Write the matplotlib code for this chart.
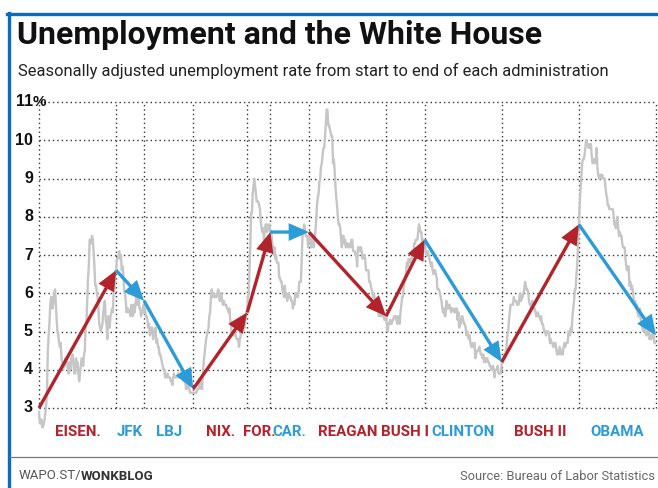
import matplotlib
matplotlib.use("Agg")
import matplotlib.pyplot as plt
from matplotlib.patches import FancyArrowPatch
from matplotlib.lines import Line2D

# monthly unemployment rate, Jan 1953 - Dec 2016 (one row per year)
unrate = [
    2.9, 2.6, 2.6, 2.7, 2.5, 2.5, 2.6, 2.7, 2.9, 3.1, 3.5, 4.5,
    4.9, 5.2, 5.7, 5.9, 5.9, 5.6, 5.8, 6.0, 6.1, 5.7, 5.3, 5.0,
    4.9, 4.7, 4.6, 4.7, 4.3, 4.2, 4.0, 4.2, 4.1, 4.3, 4.2, 4.2,
    4.0, 3.9, 4.2, 4.0, 4.3, 4.3, 4.4, 4.1, 3.9, 3.9, 4.3, 4.2,
    4.2, 3.9, 3.7, 3.9, 4.1, 4.3, 4.2, 4.1, 4.4, 4.5, 5.1, 5.2,
    5.8, 6.4, 6.7, 7.4, 7.4, 7.3, 7.5, 7.4, 7.1, 6.7, 6.2, 6.2,
    6.0, 5.9, 5.6, 5.2, 5.1, 5.0, 5.1, 5.2, 5.5, 5.7, 5.8, 5.3,
    5.2, 4.8, 5.4, 5.2, 5.1, 5.4, 5.5, 5.6, 5.5, 6.1, 6.1, 6.6,
    6.6, 6.9, 6.9, 7.0, 7.1, 6.9, 7.0, 6.6, 6.7, 6.5, 6.1, 6.0,
    5.8, 5.5, 5.6, 5.6, 5.5, 5.5, 5.4, 5.7, 5.6, 5.4, 5.7, 5.5,
    5.7, 5.9, 5.7, 5.7, 5.9, 5.6, 5.6, 5.4, 5.5, 5.5, 5.7, 5.5,
    5.6, 5.4, 5.4, 5.3, 5.1, 5.2, 4.9, 5.0, 5.1, 5.1, 4.8, 5.0,
    4.9, 5.1, 4.7, 4.8, 4.6, 4.6, 4.4, 4.4, 4.3, 4.2, 4.1, 4.0,
    4.0, 3.8, 3.8, 3.8, 3.9, 3.8, 3.8, 3.8, 3.7, 3.7, 3.6, 3.8,
    3.9, 3.8, 3.8, 3.8, 3.8, 3.9, 3.8, 3.8, 3.8, 4.0, 3.9, 3.8,
    3.7, 3.8, 3.7, 3.5, 3.5, 3.7, 3.7, 3.5, 3.4, 3.4, 3.4, 3.4,
    3.4, 3.4, 3.4, 3.4, 3.4, 3.5, 3.5, 3.5, 3.7, 3.7, 3.5, 3.5,
    3.9, 4.2, 4.4, 4.6, 4.8, 4.9, 5.0, 5.1, 5.4, 5.5, 5.9, 6.1,
    5.9, 5.9, 6.0, 5.9, 5.9, 5.9, 6.0, 6.1, 6.0, 5.8, 6.0, 6.0,
    5.8, 5.7, 5.8, 5.7, 5.7, 5.7, 5.6, 5.6, 5.5, 5.6, 5.3, 5.2,
    4.9, 5.0, 4.9, 5.0, 4.9, 4.9, 4.8, 4.8, 4.8, 4.6, 4.8, 4.9,
    5.1, 5.2, 5.1, 5.1, 5.1, 5.4, 5.5, 5.5, 5.9, 6.0, 6.6, 7.2,
    8.1, 8.1, 8.6, 8.8, 9.0, 8.8, 8.6, 8.4, 8.4, 8.4, 8.3, 8.2,
    7.9, 7.7, 7.6, 7.7, 7.4, 7.6, 7.8, 7.8, 7.6, 7.7, 7.8, 7.8,
    7.5, 7.6, 7.4, 7.2, 7.0, 7.2, 6.9, 7.0, 6.8, 6.8, 6.8, 6.4,
    6.4, 6.3, 6.3, 6.1, 6.0, 5.9, 6.2, 5.9, 6.0, 5.8, 5.9, 6.0,
    5.9, 5.9, 5.8, 5.8, 5.6, 5.7, 5.7, 6.0, 5.9, 6.0, 5.9, 6.0,
    6.3, 6.3, 6.3, 6.9, 7.5, 7.6, 7.8, 7.7, 7.5, 7.5, 7.5, 7.2,
    7.5, 7.4, 7.4, 7.2, 7.5, 7.5, 7.2, 7.4, 7.6, 7.9, 8.3, 8.5,
    8.6, 8.9, 9.0, 9.3, 9.4, 9.6, 9.8, 9.8, 10.1, 10.4, 10.8, 10.8,
    10.4, 10.4, 10.3, 10.2, 10.1, 10.1, 9.4, 9.5, 9.2, 8.8, 8.5, 8.3,
    8.0, 7.8, 7.8, 7.7, 7.4, 7.2, 7.5, 7.5, 7.3, 7.4, 7.2, 7.3,
    7.3, 7.2, 7.2, 7.3, 7.2, 7.4, 7.4, 7.1, 7.1, 7.1, 7.0, 7.0,
    6.7, 7.2, 7.2, 7.1, 7.2, 7.2, 7.0, 6.9, 7.0, 7.0, 6.9, 6.6,
    6.6, 6.6, 6.6, 6.3, 6.3, 6.2, 6.1, 6.0, 5.9, 6.0, 5.8, 5.7,
    5.7, 5.7, 5.7, 5.4, 5.6, 5.4, 5.4, 5.6, 5.4, 5.4, 5.3, 5.3,
    5.4, 5.2, 5.0, 5.2, 5.2, 5.3, 5.2, 5.2, 5.3, 5.3, 5.4, 5.4,
    5.4, 5.3, 5.2, 5.4, 5.4, 5.2, 5.5, 5.7, 5.9, 5.9, 6.2, 6.3,
    6.4, 6.6, 6.8, 6.7, 6.9, 6.9, 6.8, 6.9, 6.9, 7.0, 7.0, 7.3,
    7.3, 7.4, 7.4, 7.4, 7.6, 7.8, 7.7, 7.6, 7.6, 7.3, 7.4, 7.4,
    7.3, 7.1, 7.0, 7.1, 7.1, 7.0, 6.9, 6.8, 6.7, 6.8, 6.6, 6.5,
    6.6, 6.6, 6.5, 6.4, 6.1, 6.1, 6.1, 6.0, 5.9, 5.8, 5.6, 5.5,
    5.6, 5.4, 5.4, 5.8, 5.6, 5.6, 5.7, 5.7, 5.6, 5.5, 5.6, 5.6,
    5.6, 5.5, 5.5, 5.6, 5.6, 5.3, 5.5, 5.1, 5.2, 5.2, 5.4, 5.4,
    5.3, 5.2, 5.2, 5.1, 4.9, 5.0, 4.9, 4.8, 4.9, 4.7, 4.6, 4.7,
    4.6, 4.6, 4.7, 4.3, 4.4, 4.5, 4.5, 4.5, 4.6, 4.5, 4.4, 4.4,
    4.3, 4.4, 4.2, 4.3, 4.2, 4.3, 4.3, 4.2, 4.2, 4.1, 4.1, 4.0,
    4.0, 4.1, 4.0, 3.8, 4.0, 4.0, 4.0, 4.1, 3.9, 3.9, 3.9, 3.9,
    4.2, 4.2, 4.3, 4.4, 4.3, 4.5, 4.6, 4.9, 5.0, 5.3, 5.5, 5.7,
    5.7, 5.7, 5.7, 5.9, 5.8, 5.8, 5.8, 5.7, 5.7, 5.7, 5.9, 6.0,
    5.8, 5.9, 5.9, 6.0, 6.1, 6.3, 6.2, 6.1, 6.1, 6.0, 5.8, 5.7,
    5.7, 5.6, 5.8, 5.6, 5.6, 5.6, 5.5, 5.4, 5.4, 5.5, 5.4, 5.4,
    5.3, 5.4, 5.2, 5.2, 5.1, 5.0, 5.0, 4.9, 5.0, 5.0, 5.0, 4.9,
    4.7, 4.8, 4.7, 4.7, 4.6, 4.6, 4.7, 4.7, 4.5, 4.4, 4.5, 4.4,
    4.6, 4.5, 4.4, 4.5, 4.4, 4.6, 4.7, 4.6, 4.7, 4.7, 4.7, 5.0,
    5.0, 4.9, 5.1, 5.0, 5.4, 5.6, 5.8, 6.1, 6.1, 6.5, 6.8, 7.3,
    7.8, 8.3, 8.7, 9.0, 9.4, 9.5, 9.5, 9.6, 9.8, 10.0, 9.9, 9.9,
    9.8, 9.8, 9.9, 9.9, 9.6, 9.4, 9.4, 9.5, 9.5, 9.4, 9.8, 9.3,
    9.1, 9.0, 9.0, 9.1, 9.0, 9.1, 9.0, 9.0, 9.0, 8.8, 8.6, 8.5,
    8.3, 8.3, 8.2, 8.2, 8.2, 8.2, 8.2, 8.1, 7.8, 7.8, 7.7, 7.9,
    8.0, 7.7, 7.5, 7.6, 7.5, 7.5, 7.3, 7.2, 7.2, 7.2, 6.9, 6.7,
    6.6, 6.7, 6.7, 6.2, 6.3, 6.1, 6.2, 6.1, 5.9, 5.7, 5.8, 5.6,
    5.7, 5.5, 5.4, 5.4, 5.6, 5.3, 5.2, 5.1, 5.0, 5.0, 5.1, 5.0,
    4.9, 4.9, 5.0, 5.1, 4.8, 4.9, 4.8, 4.9, 5.0, 4.9, 4.7, 4.7,
]
start_year = 1953

# administrations: label, start, end, party, rate at start / end
admins = ["EISEN.", "JFK", "LBJ", "NIX.", "FOR.", "CAR.", "REAGAN",
          "BUSH I", "CLINTON", "BUSH II", "OBAMA"]
term_start = [1953, 1961, 1963.9, 1969, 1974.6, 1977, 1981, 1989, 1993, 2001, 2009]
term_end = [1961, 1963.9, 1969, 1974.6, 1977, 1981, 1989, 1993, 2001, 2009, 2017]
party = ["R", "D", "D", "R", "R", "D", "R", "R", "D", "R", "D"]
rate_start = [3.0, 6.6, 5.8, 3.5, 5.5, 7.6, 7.6, 5.4, 7.4, 4.2, 7.8]
rate_end = [6.6, 5.8, 3.5, 5.5, 7.6, 7.6, 5.4, 7.4, 4.2, 7.8, 4.9]

yticks = [3, 4, 5, 6, 7, 8, 9, 10, 11]

RED = "#b3232b"
BLUE = "#2b9cd8"
FRAME = "#0b6cbf"
colors = {"R": RED, "D": BLUE}

W, H = 658, 488
fig = plt.figure(figsize=(W / 100, H / 100), dpi=100)

# axes placed in pixel terms: 1953->x=39, 2017->x=656, 11%->y=102, 3->y=408
px_per_unit = (408 - 102) / 8
y_top = 11 + 7 / px_per_unit
y_bot = 3 - 32 / px_per_unit
ax = fig.add_axes([39 / W, 1 - 440 / H, 617 / W, (440 - 95) / H])
ax.set_xlim(1953, 2017)
ax.set_ylim(y_bot, y_top)
ax.axis("off")

# dotted grid
for y in yticks:
    ax.plot([1953, 2017], [y, y], color="#333333", lw=1.0,
            linestyle=(0, (1, 2.2)), clip_on=False, zorder=1)
for x in [1953] + term_end:
    ax.plot([x, x], [3, 11], color="#333333", lw=1.0,
            linestyle=(0, (1, 2.2)), clip_on=False, zorder=1)

# monthly series
months = [start_year + i / 12 for i in range(len(unrate))]
ax.plot(months, unrate, color="#c6c6c6", lw=1.7, zorder=2, clip_on=False)

# arrows
for s, e, r0, r1, p in zip(term_start, term_end, rate_start, rate_end, party):
    arr = FancyArrowPatch((s, r0), (e, r1),
                          arrowstyle="-|>,head_length=0.8,head_width=0.35",
                          mutation_scale=13, color=colors[p], lw=2.4,
                          joinstyle="miter", capstyle="butt",
                          shrinkA=0, shrinkB=0, zorder=3, clip_on=False)
    ax.add_patch(arr)

# administration labels
label_y = 3 - 24 / px_per_unit
for name, s, e, p in zip(admins, term_start, term_end, party):
    ax.text((s + e) / 2, label_y, name, ha="center", va="center",
            color=colors[p], fontsize=10.8, fontweight="bold",
            family="Roboto")

# y tick labels
tr = ax.get_yaxis_transform()
lab_x = (33 - 39) / 617
for y in yticks:
    ax.text(lab_x, y, str(y), transform=tr, ha="right", va="center",
            fontsize=11.5, fontweight="bold", family="Liberation Sans",
            color="#111111")
ax.text(lab_x, 11, "%", transform=tr, ha="left", va="center",
        fontsize=11, fontweight="bold", family="Liberation Sans",
        color="#111111")

# title and subtitle
fig.text(17 / W, 1 - 35 / H, "Unemployment and the White House",
         fontsize=23, fontweight="bold", family="Roboto", color="#111111",
         ha="left", va="center")
fig.text(18 / W, 1 - 71 / H,
         "Seasonally adjusted unemployment rate from start to end of each administration",
         fontsize=11.9, family="Roboto", color="#222222", ha="left", va="center")

# frame and separator
fig.add_artist(Line2D([7 / W, 1], [1 - 13.5 / H, 1 - 13.5 / H],
                      color=FRAME, lw=2.4, transform=fig.transFigure))
fig.add_artist(Line2D([8.5 / W, 8.5 / W], [1 - 12.5 / H, 0],
                      color=FRAME, lw=2.4, transform=fig.transFigure))
fig.add_artist(Line2D([10 / W, 1], [1 - 457 / H, 1 - 457 / H],
                      color="#777777", lw=0.9, transform=fig.transFigure))

# footer
t = fig.text(19 / W, 1 - 476 / H, "WAPO.ST/", fontsize=9.5,
             family="Roboto", color="#555555", ha="left", va="center")
fig.canvas.draw()
bb = t.get_window_extent()
fig.text((bb.x1 - 1) / W, 1 - 476 / H, "WONKBLOG", fontsize=9.5, fontweight="bold",
         family="Roboto", color="#333333", ha="left", va="center")
fig.text(655 / W, 1 - 476 / H, "Source: Bureau of Labor Statistics",
         fontsize=9.3, family="Roboto", color="#666666",
         ha="right", va="center")

fig.savefig("out.png", dpi=100)
